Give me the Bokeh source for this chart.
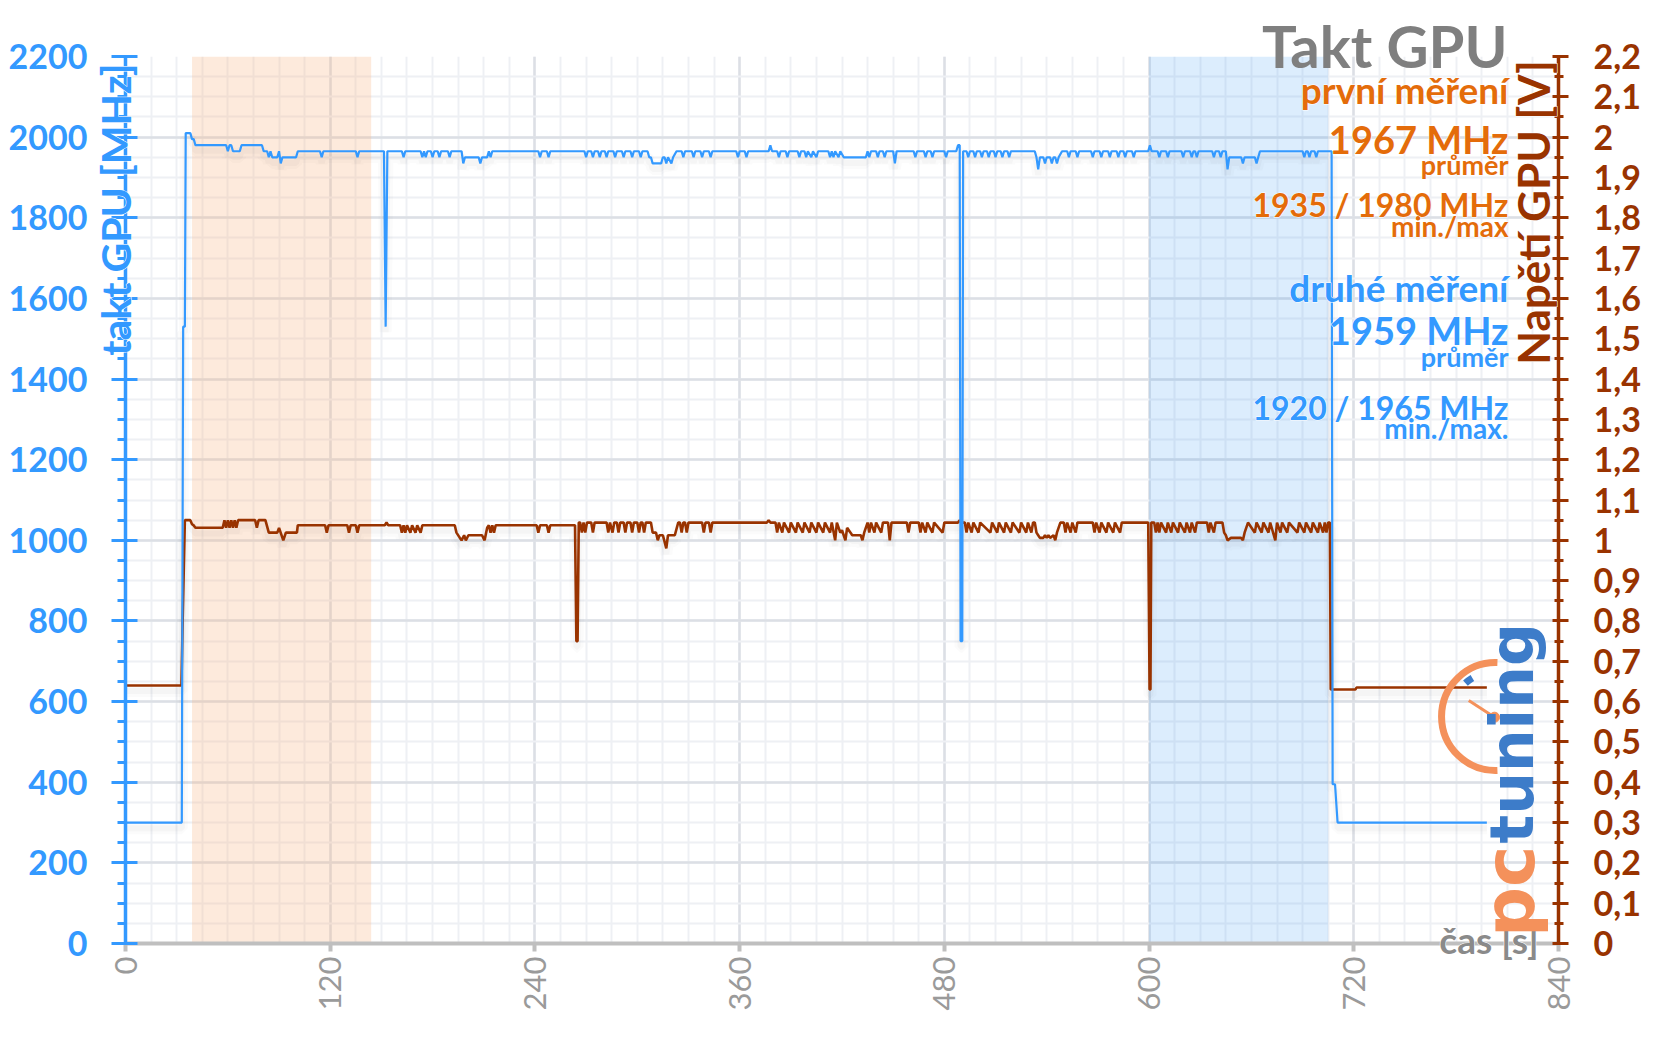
import math
from bokeh.plotting import figure
from bokeh.models import (Range1d, LinearAxis, SingleIntervalTicker, CustomJSTickFormatter,
                          Label, Title, ColumnDataSource)
from bokeh.transform import dodge
from bokeh.embed import file_html
from bokeh.resources import INLINE

# ---------------- data ----------------
# GPU clock [MHz] vs time [s]
clock_points = [
    (0, 300), (33, 300), (33.8, 1530), (34.8, 1530), (35.3, 2010), (38, 2010), (39, 1995), (40, 1995), (41, 1980),
    (59, 1980), (60, 1965), (61, 1980), (62, 1980), (63, 1965), (67, 1965), (68, 1980),
    (80, 1980), (81, 1965), (83, 1965), (84, 1950), (85, 1965), (86, 1950), (89, 1950), (90, 1965), (91, 1935),
    (92, 1950), (100, 1950), (101, 1965),
    (114, 1965), (115, 1950), (116, 1965), (135, 1965), (136, 1950), (137, 1965),
    (151.5, 1965), (152.5, 1530), (153.5, 1965),
    (162, 1965), (163, 1950), (164, 1965),
    (173, 1965), (174, 1950), (175, 1965), (176, 1950), (177, 1965), (179, 1965), (180, 1950), (181, 1965),
    (183, 1965), (184, 1950), (185, 1965), (189, 1965), (190, 1950), (191, 1965),
    (197, 1965), (198, 1935), (199, 1950), (207, 1950), (208, 1935), (209, 1950), (212, 1950), (213, 1965),
    (214, 1950), (215, 1965),
    (242, 1965), (243, 1950), (244, 1965), (247, 1965), (248, 1950), (249, 1965),
    (269, 1965), (270, 1950), (271, 1965), (273, 1965), (274, 1950), (275, 1965), (277, 1965), (278, 1950),
    (279, 1965), (281, 1965), (282, 1950), (283, 1965), (286, 1965), (287, 1950), (288, 1965), (291, 1965),
    (292, 1950), (293, 1965), (296, 1965), (297, 1950), (298, 1965), (301, 1965), (302, 1950), (303, 1965),
    (306, 1965), (307, 1950), (308, 1950), (309, 1935), (314, 1935), (315, 1950), (316, 1950), (317, 1935),
    (318, 1950), (320, 1935), (321, 1950), (323, 1965),
    (326, 1965), (327, 1950), (328, 1965), (332, 1965), (333, 1950), (334, 1965), (337, 1965), (338, 1950),
    (339, 1965), (342, 1965), (343, 1950), (344, 1965),
    (358, 1965), (359, 1950), (360, 1965), (363, 1965), (364, 1950), (365, 1965),
    (377, 1965), (378, 1980), (379, 1965),
    (382, 1965), (383, 1950), (384, 1965), (387, 1965), (388, 1950), (389, 1965), (394, 1965), (395, 1950),
    (396, 1965), (398, 1965), (399, 1950), (400, 1965), (402, 1950), (403, 1965), (405, 1950), (406, 1965),
    (412, 1965), (413, 1950), (414, 1965), (415, 1950), (416, 1965), (418, 1950), (419, 1965),
    (421, 1950), (434, 1950), (435, 1965), (436, 1950), (437, 1965), (440, 1965), (441, 1950), (442, 1965),
    (444, 1965), (445, 1950), (446, 1965), (450, 1965), (451, 1935), (452, 1965),
    (462, 1965), (463, 1950), (464, 1965), (468, 1965), (469, 1950), (470, 1965), (472, 1965), (473, 1950),
    (474, 1965), (480, 1965), (481, 1950), (482, 1965),
    (487, 1965), (488, 1980), (489, 1980), (489.5, 750), (490.5, 750), (491, 1965),
    (493, 1965), (494, 1950), (495, 1965), (497, 1965), (498, 1950), (499, 1965), (501, 1965), (502, 1950),
    (503, 1965), (505, 1965), (506, 1950), (507, 1965), (509, 1965), (510, 1950), (511, 1965), (513, 1965),
    (514, 1950), (515, 1965), (517, 1965), (518, 1950), (519, 1965),
    (533, 1965), (534, 1950), (535, 1920), (536, 1950), (538, 1950), (539, 1935), (540, 1950), (542, 1950),
    (543, 1935), (544, 1950), (545, 1950), (546, 1935), (547, 1950), (549, 1965),
    (552, 1965), (553, 1950), (554, 1965), (557, 1965), (558, 1950), (559, 1965), (566, 1965), (567, 1950),
    (568, 1965), (571, 1965), (572, 1950), (573, 1965), (576, 1965), (577, 1950), (578, 1965), (581, 1965),
    (582, 1950), (583, 1965), (585, 1965), (586, 1950), (587, 1965), (590, 1965), (591, 1950), (592, 1965),
    (599.5, 1965), (600.5, 1980), (601.5, 1965),
    (605, 1965), (606, 1950), (607, 1965), (610, 1965), (611, 1950), (612, 1965), (619, 1965), (620, 1950),
    (621, 1965), (624, 1965), (625, 1950), (626, 1965), (627, 1965), (628, 1950), (629, 1965), (637, 1965),
    (638, 1950), (639, 1965), (641, 1965), (642, 1950), (643, 1965),
    (645, 1965), (646, 1920), (647, 1950), (654, 1950), (655, 1935), (656, 1950), (662, 1950), (663, 1935),
    (664, 1950), (665, 1965),
    (690, 1965), (691, 1950), (692, 1965), (693, 1965), (694, 1950), (695, 1965), (697, 1965), (698, 1950),
    (699, 1965),
    (707, 1965), (707.6, 395), (709, 395), (710.5, 300), (798, 300),
]

# GPU voltage [V] vs time [s]
volt_points = [
    (0, 0.64), (32.8, 0.64), (33.5, 0.80), (34.8, 1.05), (38, 1.05), (39, 1.04), (40, 1.037), (41, 1.031),
    (57, 1.031), (58, 1.05), (59, 1.031), (60, 1.05), (61, 1.031), (62, 1.05), (63, 1.031), (64, 1.05),
    (65, 1.031), (66, 1.05), (76, 1.05), (77, 1.031), (78, 1.05), (82, 1.05), (84, 1.019), (89, 1.019),
    (90, 1.031), (92.5, 1.0), (94, 1.019), (100.5, 1.019), (101, 1.0375),
    (117, 1.0375), (118, 1.019), (119, 1.0375), (130, 1.0375), (131, 1.019), (132, 1.0375), (135, 1.0375),
    (136, 1.019), (137, 1.0375),
    (152, 1.0375), (153, 1.044), (154, 1.0375),
    (161, 1.0375), (162, 1.019), (163, 1.0375), (164, 1.019), (165, 1.0375), (167, 1.019), (168, 1.0375),
    (170, 1.019), (171, 1.0375), (173, 1.019), (174, 1.0375),
    (193, 1.0375), (194, 1.019), (196, 1.006), (197, 1.0), (198.5, 1.0125), (199.5, 1.0), (201, 1.0125),
    (209, 1.0125), (210.5, 1.0), (212, 1.031), (213, 1.0375), (214, 1.019), (215, 1.0375), (216, 1.019),
    (217, 1.0375),
    (241, 1.0375), (242, 1.019), (243, 1.0375), (247, 1.0375), (248, 1.019), (249, 1.0375),
    (263.5, 1.0375), (264.3, 0.75), (265, 0.75), (265.7, 1.044),
    (266.5, 1.044), (267.5, 1.019), (268.5, 1.044), (269.5, 1.019), (270.5, 1.044), (273, 1.044),
    (274, 1.019), (275, 1.044),
    (282, 1.044), (283, 1.019), (284, 1.044), (285.5, 1.019), (286.5, 1.044), (288, 1.044), (289, 1.019),
    (290, 1.044), (292, 1.044), (293, 1.019), (294, 1.044), (296, 1.044), (297, 1.019), (298, 1.044),
    (300, 1.044), (301, 1.019), (302, 1.044), (303, 1.044), (304, 1.019), (305, 1.044),
    (308, 1.044), (309, 1.019), (311, 1.019), (312, 1.0), (313, 1.0125), (315, 1.0125), (317, 0.98),
    (318, 1.0125), (322, 1.0125), (324, 1.044), (325, 1.044), (326, 1.019), (327, 1.044), (328, 1.044),
    (329, 1.019), (330, 1.044),
    (338, 1.044), (339, 1.019), (340, 1.044), (342, 1.044), (343, 1.019), (344, 1.044),
    (376, 1.044), (377, 1.05), (378, 1.044),
    (381, 1.044), (382, 1.019), (383, 1.044), (385, 1.019), (386, 1.044), (389, 1.019), (390, 1.044),
    (393, 1.019), (394, 1.044), (397, 1.019), (398, 1.044), (401, 1.019), (402, 1.044), (405, 1.019),
    (406, 1.044), (409, 1.019), (410, 1.044), (413, 1.019), (414, 1.044), (416, 1.0), (417, 1.044),
    (419, 1.019), (420, 1.025), (422, 1.0), (423, 1.031), (425, 1.019), (426, 1.0125), (431, 1.0125),
    (432, 1.0), (433, 1.019), (435, 1.044), (436, 1.019), (437, 1.044), (439, 1.019), (440, 1.044),
    (443, 1.019), (444, 1.044), (447, 1.044), (448, 1.0), (449, 1.044),
    (458, 1.044), (459, 1.019), (460, 1.044),
    (465, 1.044), (466, 1.019), (467, 1.044), (469, 1.019), (470, 1.044), (473, 1.019), (474, 1.044),
    (479, 1.019), (480, 1.044),
    (488, 1.044), (489, 1.05), (490, 1.044),
    (492, 1.044), (493, 1.019), (494, 1.044), (496, 1.019), (497, 1.044), (500, 1.019), (501, 1.044),
    (507, 1.019), (508, 1.044), (511, 1.019), (512, 1.044), (515, 1.019), (516, 1.044), (519, 1.019),
    (520, 1.044), (524, 1.019), (525, 1.044), (528, 1.019), (529, 1.044), (531, 1.019), (532, 1.044),
    (533, 1.044), (534, 1.019), (535, 1.0125), (536, 1.006), (538, 1.006), (539, 1.0125), (540, 1.006),
    (541, 1.0125), (542, 1.006), (544, 1.0125), (545, 1.0), (546, 1.019), (548, 1.044),
    (550, 1.044), (551, 1.019), (552, 1.044), (554, 1.019), (555, 1.044), (557, 1.019), (558, 1.044),
    (567, 1.044), (568, 1.019), (569, 1.044), (571, 1.019), (572, 1.044), (575, 1.019), (576, 1.044),
    (579, 1.019), (580, 1.044), (583, 1.019), (584, 1.044),
    (599.5, 1.044), (600.3, 0.63), (600.8, 0.63), (601.3, 1.044),
    (603, 1.044), (604, 1.019), (605, 1.044), (606, 1.019), (607, 1.044), (610, 1.019), (611, 1.044),
    (613, 1.019), (614, 1.044), (617, 1.019), (618, 1.044), (621, 1.019), (622, 1.044), (624, 1.019),
    (625, 1.044), (627, 1.019), (628, 1.044),
    (634, 1.044), (635, 1.019), (636, 1.044), (638, 1.019), (639, 1.044),
    (643, 1.044), (644, 1.019), (645, 1.0125), (646, 1.0), (648, 1.006), (654, 1.006), (655, 1.0),
    (656, 1.019), (658, 1.044),
    (662, 1.019), (663, 1.044), (666, 1.019), (667, 1.044), (670, 1.019), (671, 1.044), (674, 1.0),
    (675, 1.044), (677, 1.019), (678, 1.044), (681, 1.019), (682, 1.044), (687, 1.019), (688, 1.044),
    (691, 1.019), (692, 1.044), (695, 1.019), (696, 1.044), (699, 1.019), (700, 1.044), (702, 1.019),
    (703, 1.044), (704, 1.019), (705, 1.044),
    (706, 1.044), (706.5, 0.63), (721, 0.63), (721.6, 0.635), (798, 0.635),
]

# measurement windows [s]
band_start = [39, 600]
band_end = [144, 705]
band_colors = ["#F8B98A", "#3D9BF5"]
band_alpha = [0.30, 0.18]

x_ticks_interval = 120
title_text = "Takt GPU"
run1_texts = ["první měření", "1967 MHz", "průměr", "1935 / 1980 MHz", "min./max"]
run2_texts = ["druhé měření", "1959 MHz", "průměr", "1920 / 1965 MHz", "min./max."]

# ---------------- styles ----------------
BLUE = "#3399FF"
BROWN = "#993300"
ORANGE = "#E46C0A"
GRAY_T = "#7F7F7F"
FONT = "Lato"

p = figure(width=1656, height=1044, x_range=Range1d(0, 840), y_range=Range1d(0, 2200),
           output_backend="svg", toolbar_location=None,
           min_border_left=125, min_border_right=98, min_border_top=56, min_border_bottom=101)
p.outline_line_color = None
p.background_fill_color = "white"
p.border_fill_color = "white"

# x axis
xa = p.xaxis[0]
xa.ticker = SingleIntervalTicker(interval=x_ticks_interval, num_minor_ticks=8)
xa.axis_line_color = "#BFBFBF"
xa.axis_line_width = 4
xa.major_tick_line_color = "#BFBFBF"
xa.major_tick_line_width = 4
xa.major_tick_in = 0
xa.major_tick_out = 8
xa.minor_tick_line_color = None
xa.major_label_orientation = math.pi / 2
xa.major_label_text_font = FONT
xa.major_label_text_font_size = "31px"
xa.major_label_text_color = "#9A9A9A"
xa.major_label_standoff = 5

# left axis
ya = p.yaxis[0]
ya.ticker = SingleIntervalTicker(interval=200, num_minor_ticks=4)
ya.axis_line_color = BLUE
ya.axis_line_width = 3.5
ya.major_tick_line_color = BLUE
ya.major_tick_line_width = 3
ya.major_tick_in = 12
ya.major_tick_out = 14
ya.minor_tick_line_color = BLUE
ya.minor_tick_line_width = 3
ya.minor_tick_in = 0
ya.minor_tick_out = 8
ya.major_label_text_font = FONT
ya.major_label_text_font_style = "bold"
ya.major_label_text_font_size = "34px"
ya.major_label_text_color = BLUE
ya.major_label_standoff = 24

# right axis (voltage)
p.extra_y_ranges = {"v": Range1d(0, 2.2)}
ra = LinearAxis(y_range_name="v",
                ticker=SingleIntervalTicker(interval=0.1, num_minor_ticks=2),
                formatter=CustomJSTickFormatter(code="const v = Math.round(tick*10)/10; return v.toString().replace('.', ',');"))
ra.axis_line_color = BROWN
ra.axis_line_width = 3.5
ra.major_tick_line_color = BROWN
ra.major_tick_line_width = 3
ra.major_tick_in = 6
ra.major_tick_out = 10
ra.minor_tick_line_color = BROWN
ra.minor_tick_line_width = 3
ra.minor_tick_in = 4
ra.minor_tick_out = 5
ra.major_label_text_font = FONT
ra.major_label_text_font_style = "bold"
ra.major_label_text_font_size = "34px"
ra.major_label_text_color = BROWN
ra.major_label_standoff = 25
p.add_layout(ra, "right")

# grids
for g in (p.xgrid[0], p.ygrid[0]):
    g.grid_line_color = "#DCDFE5"
    g.grid_line_width = 2.5
    g.minor_grid_line_color = "#EEF0F4"
    g.minor_grid_line_width = 2

# bands
band_src = ColumnDataSource(dict(left=band_start, right=band_end, color=band_colors, alpha=band_alpha))
p.quad(left="left", right="right", bottom=0, top=2200, fill_color="color", fill_alpha="alpha",
       line_color=None, source=band_src)

# series (with a soft shadow underneath)
clock_src = ColumnDataSource(dict(t=[a for a, b in clock_points], v=[b for a, b in clock_points]))
volt_src = ColumnDataSource(dict(t=[a for a, b in volt_points], v=[b for a, b in volt_points]))
for w, a in ((12, 0.025), (6, 0.035)):
    p.line("t", dodge("v", -0.014, range=p.extra_y_ranges["v"]), source=volt_src, y_range_name="v",
           line_color="#555555", line_width=w, line_alpha=a)
    p.line("t", dodge("v", -14, range=p.y_range), source=clock_src,
           line_color="#555555", line_width=w, line_alpha=a)
p.line("t", "v", source=volt_src, y_range_name="v", line_color=BROWN, line_width=2.6)
p.line("t", "v", source=clock_src, line_color=BLUE, line_width=2.2)

# ---------------- logo (pctuning) ----------------
LOGO_O = "#F4915B"
LOGO_B = "#3D7CC9"
p.arc(x=[803.1], y=[563], radius=54, radius_units="screen", start_angle=math.radians(88),
      end_angle=math.radians(272), line_color=LOGO_O, line_width=7)
p.arc(x=[803.1], y=[563], radius=45, radius_units="screen", start_angle=math.radians(121),
      end_angle=math.radians(132), line_color=LOGO_B, line_width=7)
p.segment(x0=[787.4], y0=[602.7], x1=[802.5], y1=[561.3], line_color=LOGO_O, line_width=3)
p.scatter(x=[802.5], y=[561.3], size=10, color=LOGO_O)


def lab(x, y, text, size, color, align="right", angle=0.0, font=FONT, halo=True):
    """x, y in screen px relative to the frame's bottom-left corner."""
    kw = dict(x=x, y=y, x_units="screen", y_units="screen", text=text, text_font=font,
              text_font_style="bold", text_font_size=size, text_align=align,
              text_baseline="alphabetic", angle=angle, level="overlay")
    if halo:
        p.add_layout(Label(text_color="white", text_outline_color="white", **kw))
    p.add_layout(Label(text_color=color, **kw))


lab(1386, 100, "tuning", "60px", LOGO_B, align="left", angle=math.pi / 2, font="DejaVu Sans", halo=False)
lab(1384, 98, "pc", "70px", LOGO_O, align="right", angle=math.pi / 2, font="DejaVu Sans", halo=False)

# summary texts
run1_y = [854.5, 804.9, 778.8, 739.1, 717.5]
run2_y = [656.1, 613.2, 587.1, 535.8, 515.9]
sizes = ["37px", "38px", "27px", "32px", "28px"]
for t, yy, sz in zip(run1_texts, run1_y, sizes):
    lab(1383, yy, t, sz, ORANGE)
for t, yy, sz in zip(run2_texts, run2_y, sizes):
    lab(1383, yy, t, sz, BLUE)

# right axis title (inside the frame)
lab(1407.4, 731, "Napětí GPU [V]", "44px", BROWN, align="center", angle=math.pi / 2)

# chart title (above the frame)
p.title.text = title_text
p.title.align = "right"
p.title.vertical_align = "bottom"
p.title.offset = 51
p.title.standoff = -47
p.title.text_font = FONT
p.title.text_font_size = "58px"
p.title.text_font_style = "bold"
p.title.text_color = GRAY_T


def side_title(text, size, color, offset, standoff):
    out = []
    for c, halo in (("white", True), (color, False)):
        kw = dict(text=text, align="right", vertical_align="top", offset=offset, standoff=standoff,
                  text_font=FONT, text_font_size=size, text_font_style="bold", text_color=c)
        if halo:
            kw["text_outline_color"] = "white"
        out.append(Title(**kw))
    return out


# left axis title and x axis title sit over the axes, like in the original
p.left = side_title("takt GPU [MHz]", "41px", BLUE, 7, -69) + list(p.left)
p.below = side_title("čas [s]", "37px", "#8A8A8A", 20, -54) + list(p.below)

open("out.html", "w").write(file_html(p, INLINE))
